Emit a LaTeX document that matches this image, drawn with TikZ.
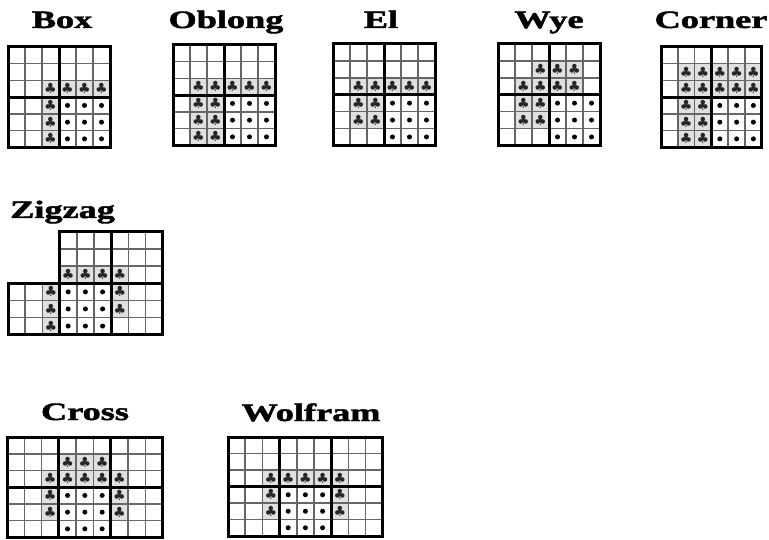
\documentclass[tikz,border=0pt]{standalone}
\usepackage{fontspec}
\usepackage{graphicx}
\setmainfont{Liberation Serif}
\newfontfamily\titlefont[FakeBold=1.6]{Liberation Serif Bold}
\newfontfamily\symfont{DejaVu Sans}
\tikzset{
  thinl/.style={draw=black!60, line width=1.6pt},
  thickl/.style={draw=black, line width=3pt, line cap=rect},
  clubbg/.style={fill=black!12},
  titlen/.style={font=\titlefont\fontsize{25}{25}\selectfont, anchor=base, inner sep=0pt},
  clubn/.style={font=\symfont\fontsize{14}{14}\selectfont, inner sep=0pt, text=black!85},
  dotn/.style={circle, fill=black, inner sep=0pt, minimum size=5pt},
}
% regular grid: #1 cols, #2 rows, #3 clubs, #4 dots
\newcommand\mygrid[4]{%
  \foreach \c/\r in {#3} \fill[clubbg] (\c,\r) rectangle ++(1,1);
  \foreach \i in {1,...,#1} \draw[thinl] (\i,0) -- (\i,#2);
  \foreach \j in {1,...,#2} \draw[thinl] (0,\j) -- (#1,\j);
  \foreach \i in {3,6} {\ifnum\i<#1 \draw[thickl] (\i,0) -- (\i,#2);\fi}
  \draw[thickl] (0,3) -- (#1,3);
  \draw[thickl] (0,0) rectangle (#1,#2);
  \foreach \c/\r in {#3} \node[clubn] (c-\c-\r) at (\c+.5,\r+.5) {\char"2663};
  \foreach \c/\r in {#4} \node[dotn] (d-\c-\r) at (\c+.5,\r+.5) {};
}
\begin{document}
\begin{tikzpicture}[x=1pt, y=-1pt]
\useasboundingbox (0,0) rectangle (769,540);
\fill[white] (0,0) rectangle (769,540);

% titles
\node[titlen] (tbox) at (62,28) {\scalebox{1.45}[1]{Box}};
\node[titlen] (toblong) at (226,28) {\scalebox{1.45}[1]{Oblong}};
\node[titlen] (tel) at (381,28) {\scalebox{1.45}[1]{El}};
\node[titlen] (twye) at (549,28) {\scalebox{1.45}[1]{Wye}};
\node[titlen] (tcorner) at (711,28) {\scalebox{1.45}[1]{Corner}};
\node[titlen, anchor=base west] (tzigzag) at (10,218) {\scalebox{1.45}[1]{Zigzag}};
\node[titlen] (tcross) at (85,420) {\scalebox{1.45}[1]{Cross}};
\node[titlen] (twolfram) at (311,421) {\scalebox{1.45}[1]{Wolfram}};

% Box
\begin{scope}[xshift=8pt, yshift=-47pt, x=17pt, y=-16.7pt, name prefix=box-]
\mygrid{6}{6}{2/2,3/2,4/2,5/2,2/3,2/4,2/5}{3/3,4/3,5/3,3/4,4/4,5/4,3/5,4/5,5/5}
\end{scope}
% Oblong
\begin{scope}[xshift=173pt, yshift=-45pt, x=17pt, y=-16.7pt, name prefix=obl-]
\mygrid{6}{6}{1/2,2/2,3/2,4/2,5/2,1/3,2/3,1/4,2/4,1/5,2/5}{3/3,4/3,5/3,3/4,4/4,5/4,3/5,4/5,5/5}
\end{scope}
% El
\begin{scope}[xshift=333pt, yshift=-44pt, x=17pt, y=-16.9pt, name prefix=el-]
\mygrid{6}{6}{1/2,2/2,3/2,4/2,5/2,1/3,2/3,1/4,2/4}{3/3,4/3,5/3,3/4,4/4,5/4,3/5,4/5,5/5}
\end{scope}
% Wye
\begin{scope}[xshift=498pt, yshift=-44pt, x=17pt, y=-16.9pt, name prefix=wye-]
\mygrid{6}{6}{2/1,3/1,4/1,1/2,2/2,3/2,4/2,1/3,2/3,1/4,2/4}{3/3,4/3,5/3,3/4,4/4,5/4,3/5,4/5,5/5}
\end{scope}
% Corner
\begin{scope}[xshift=661pt, yshift=-47pt, x=16.8pt, y=-16.7pt, name prefix=cor-]
\mygrid{6}{6}{1/1,2/1,3/1,4/1,5/1,1/2,2/2,3/2,4/2,5/2,1/3,2/3,1/4,2/4,1/5,2/5}{3/3,4/3,5/3,3/4,4/4,5/4,3/5,4/5,5/5}
\end{scope}

% Zigzag
\begin{scope}[xshift=8pt, yshift=-232pt, x=17.2pt, y=-17.1pt, name prefix=zig-]
\foreach \c/\r in {3/2,4/2,5/2,6/2,2/3,6/3,2/4,6/4,2/5} \fill[clubbg] (\c,\r) rectangle ++(1,1);
\foreach \i in {4,5,...,8} \draw[thinl] (\i,0) -- (\i,6);
\foreach \i in {1,2} \draw[thinl] (\i,3) -- (\i,6);
\foreach \j in {1,2} \draw[thinl] (3,\j) -- (9,\j);
\foreach \j in {4,5} \draw[thinl] (0,\j) -- (9,\j);
\draw[thickl] (6,0) -- (6,6) (3,3) -- (3,6) (3,3) -- (9,3);
\draw[thickl] (3,0) -- (9,0) -- (9,6) -- (0,6) -- (0,3) -- (3,3) -- cycle;
\foreach \c/\r in {3/2,4/2,5/2,6/2,2/3,6/3,2/4,6/4,2/5} \node[clubn] (c-\c-\r) at (\c+.5,\r+.5) {\char"2663};
\foreach \c/\r in {3/3,4/3,5/3,3/4,4/4,5/4,3/5,4/5,5/5} \node[dotn] (d-\c-\r) at (\c+.5,\r+.5) {};
\end{scope}

% Cross
\begin{scope}[xshift=7pt, yshift=-437pt, x=17.3pt, y=-16.7pt, name prefix=cro-]
\mygrid{9}{6}{3/1,4/1,5/1,2/2,3/2,4/2,5/2,6/2,2/3,6/3,2/4,6/4}{3/3,4/3,5/3,3/4,4/4,5/4,3/5,4/5,5/5}
\end{scope}
% Wolfram
\begin{scope}[xshift=228pt, yshift=-437pt, x=17.2pt, y=-16.5pt, name prefix=wol-]
\mygrid{9}{6}{2/2,3/2,4/2,5/2,6/2,2/3,6/3,2/4,6/4}{3/3,4/3,5/3,3/4,4/4,5/4,3/5,4/5,5/5}
\end{scope}
\end{tikzpicture}
\end{document}
